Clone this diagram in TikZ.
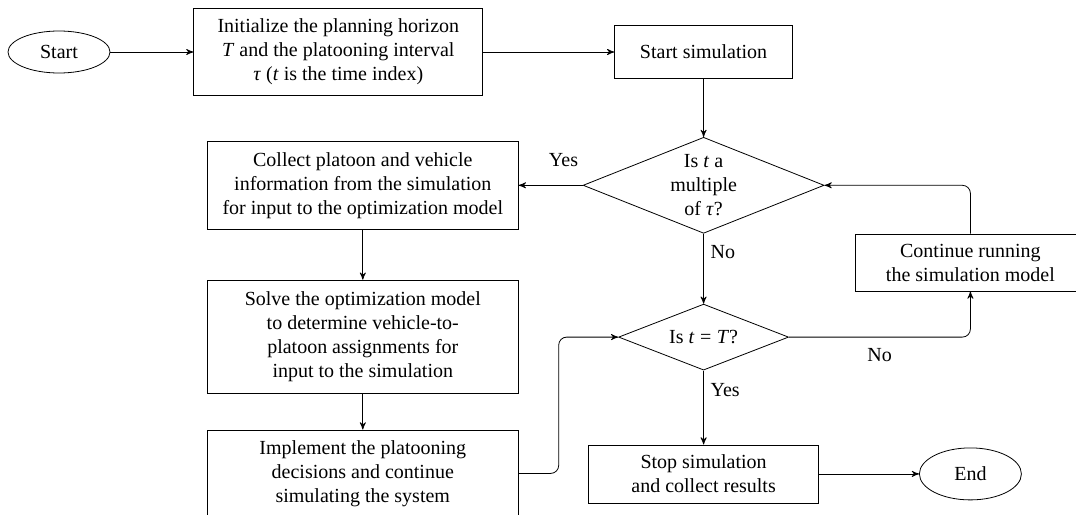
\documentclass[tikz,border=0pt]{standalone}
\usepackage{fontspec}
\setmainfont{Liberation Serif}
\usepackage{tikz}
\usetikzlibrary{arrows, shapes, positioning}

\newcommand{\tv}[1]{\textit{#1}}

\tikzset{
	term/.style={ellipse, draw, inner sep=0pt, minimum width=51pt},
	process/.style={rectangle, draw, align=center, inner sep=2pt},
	decision/.style={diamond, draw, aspect=2.5, inner sep=0pt, align=center},
	flow/.style={->, >=stealth'},
}

\begin{document}
\begin{tikzpicture}[font=\rmfamily]
			\useasboundingbox (0,0) rectangle (538pt,-257pt);
			\node[term, minimum height=21pt] (start) at (29.5pt,-26pt) {Start};
			\node[process, right=41.5pt of start, minimum width=144.5pt, minimum height=43.5pt] (init) {Initialize the planning horizon\\ \tv{T} and the platooning interval\\ \tv{τ} (\tv{t} is the time index)};
			\node[process, right=65.5pt of init, minimum width=89pt, minimum height=26.5pt] (sim) {Start simulation};
			\node[decision, below=29pt of sim, minimum width=120.5pt, minimum height=48pt] (multiple) {Is \tv{t} a\\ multiple\\ of \tv{τ}?};
			\node[process, left=32pt of multiple, minimum width=155.5pt, minimum height=44pt] (collect) {Collect platoon and vehicle\\ information from the simulation\\ for input to the optimization model};
			\node[process, below=25pt of collect, minimum width=155.5pt, minimum height=56.5pt] (solve) {Solve the optimization model\\ to determine vehicle-to-\\ platoon assignments for\\ input to the simulation};
			\node[process, below=18pt of solve, minimum width=155.5pt, minimum height=43.5pt] (implement) {Implement the platooning\\ decisions and continue\\ simulating the system};
			\node[decision, below=35pt of multiple, minimum width=85pt, minimum height=33pt] (horizon) {Is \tv{t}\;=\;\tv{T}?};
			\node[process, below=37pt of horizon, minimum width=115pt, minimum height=29pt] (stop) {Stop simulation\\ and collect results};
			\node[term, right=50pt of stop, minimum height=26pt] (end) {End};
			\node[process, above=78pt of end, minimum width=115pt, minimum height=28.5pt] (continue) {Continue running\\ the simulation model};

			\draw[flow] (start) -- (init);
			\draw[flow] (init) -- (sim);
			\draw[flow] (sim) -- (multiple);
			\draw[flow] (multiple) -- node[above=6pt, pos=0.3] (yesA) {Yes} (collect);
			\draw[flow] (collect) -- (solve);
			\draw[flow] (solve) -- (implement);
			\draw[flow, rounded corners=4pt] (implement.east) -- ++(20pt,0) |- (horizon);
			\draw[flow] (multiple) -- node[right, pos=0.26] (noA) {No} (horizon);
			\draw[flow, rounded corners=4pt] (horizon) -| node[below=2pt, pos=0.25] (noB) {No} (continue);
			\draw[flow, rounded corners=4pt] (continue) |- (multiple);
			\draw[flow] (horizon) -- node[right, pos=0.27] (yesB) {Yes} (stop);
			\draw[flow] (stop) -- (end);
		\end{tikzpicture}
\end{document}
